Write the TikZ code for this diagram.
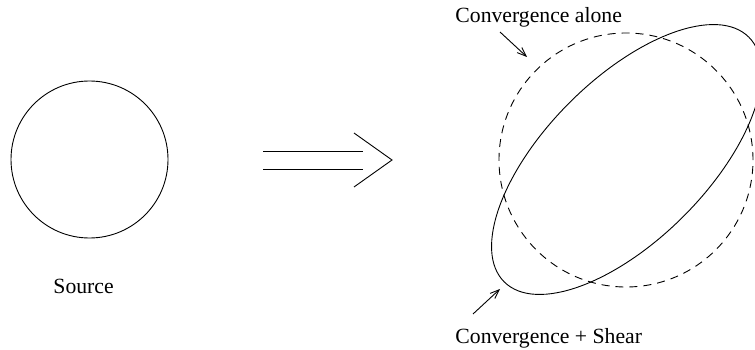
\documentclass[tikz,border=0pt]{standalone}
\usepackage{fontspec}
\setmainfont{Liberation Serif}
\usetikzlibrary{arrows.meta,shapes.geometric}
\begin{document}
\begin{tikzpicture}[x=1pt,y=-1pt,
  line width=0.9pt,
  lbl/.style={inner sep=0pt,anchor=base west,font=\fontsize{21.7}{26}\selectfont},
  ptr/.style={-{Straight Barb[length=9pt,width=7pt,line width=0.9pt]}},
  dashcirc/.style={dash pattern=on 8pt off 6pt}]
\useasboundingbox (0,0) rectangle (755,350);
\clip (0,0) rectangle (755,350);
% source
\node[circle,draw,minimum size=157pt,inner sep=0pt] (src) at (89.5,159.5) {};
\node[lbl] (srclbl) at (53,293) {Source};
% big arrow
\coordinate (a1s) at (263,151);
\coordinate (a1e) at (363,151);
\coordinate (a2s) at (263,169);
\coordinate (a2e) at (363,169);
\coordinate (ct) at (354,133);
\coordinate (tip) at (392,160);
\coordinate (cb) at (354,187);
\draw (a1s) -- (a1e);
\draw (a2s) -- (a2e);
\draw (ct) -- (tip) -- (cb);
% image
\node[circle,draw,dashcirc,minimum size=254pt,inner sep=0pt] (conv) at (626,160) {};
\node[ellipse,draw,rotate=45,minimum width=346pt,minimum height=161pt,inner sep=0pt] (shear) at (626.5,159.5) {};
% labels
\node[lbl] (l1) at (455,23) {Convergence alone};
\node[lbl] (l2) at (455,343) {Convergence + Shear};
\coordinate (p1s) at (500,32);
\coordinate (p1e) at (527,57);
\coordinate (p2s) at (473,314);
\coordinate (p2e) at (500,289);
\draw[ptr] (p1s) -- (p1e);
\draw[ptr] (p2s) -- (p2e);
\end{tikzpicture}
\end{document}
